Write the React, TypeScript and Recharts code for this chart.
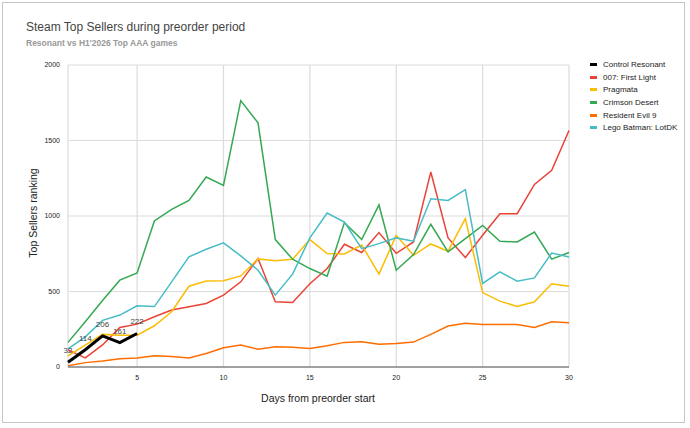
import { CartesianGrid, LabelList, Line, LineChart, XAxis, YAxis } from 'recharts'

const days = [
  1, 2, 3, 4, 5, 6, 7, 8, 9, 10, 11, 12, 13, 14, 15, 16, 17, 18, 19, 20, 21, 22, 23, 24, 25, 26, 27, 28, 29, 30,
]

const controlResonant = [32, 114, 206, 161, 222]
const firstLight = [
  113, 60, 146, 262, 284, 333, 377, 399, 421, 476, 564, 718, 432, 427, 551, 652, 813, 758, 890, 753, 828, 1291,
  855, 725, 872, 1015, 1015, 1209, 1302, 1566,
]
const pragmata = [
  73, 145, 216, 211, 211, 273, 366, 535, 570, 572, 603, 716, 703, 714, 844, 751, 749, 808, 615, 872, 740, 815,
  767, 982, 493, 436, 401, 432, 551, 535,
]
const crimsonDesert = [
  163, 300, 440, 575, 623, 967, 1044, 1103, 1258, 1203, 1764, 1617, 844, 714, 652, 601, 956, 844, 1073, 641,
  745, 945, 762, 850, 938, 833, 828, 894, 714, 758,
]
const residentEvil = [
  9, 29, 40, 55, 59, 75, 70, 59, 90, 128, 145, 117, 134, 130, 123, 141, 163, 167, 150, 156, 165, 216, 271, 289,
  282, 282, 282, 262, 300, 293,
]
const legoBatman = [
  120, 200, 309, 344, 405, 400, 564, 729, 780, 822, 736, 641, 476, 615, 855, 1020, 960, 784, 817, 855, 833, 1114,
  1103, 1174, 553, 630, 568, 590, 755, 729,
]

const xTicks = [5, 10, 15, 20, 25, 30]
const yTicks = [0, 500, 1000, 1500, 2000]

const series = [
  { key: 'resonant', name: 'Control Resonant', color: '#000000' },
  { key: 'firstLight', name: '007: First Light', color: '#ea4335' },
  { key: 'pragmata', name: 'Pragmata', color: '#fbbc04' },
  { key: 'crimson', name: 'Crimson Desert', color: '#34a853' },
  { key: 're9', name: 'Resident Evil 9', color: '#ff6d01' },
  { key: 'lego', name: 'Lego Batman: LotDK', color: '#46bdc6' },
]

const chartData = days.map((day, i) => ({
  day,
  resonant: i < controlResonant.length ? controlResonant[i] : null,
  firstLight: firstLight[i],
  pragmata: pragmata[i],
  crimson: crimsonDesert[i],
  re9: residentEvil[i],
  lego: legoBatman[i],
}))

const font = 'Arial, "Liberation Sans", sans-serif'

function App() {
  return (
    <div style={{ position: 'absolute', left: 0, top: 0, width: 690, height: 428, fontFamily: font, background: '#fff' }}>
      <div
        style={{
          position: 'absolute',
          left: 2,
          top: 2,
          width: 683,
          height: 421,
          border: '1px solid #c6c6c6',
          boxSizing: 'border-box',
        }}
      />
      <div style={{ position: 'absolute', left: 26, top: 20, fontSize: 12, color: '#444' }}>
        Steam Top Sellers during preorder period
      </div>
      <div style={{ position: 'absolute', left: 26, top: 38, fontSize: 8.5, fontWeight: 'bold', color: '#999' }}>
        Resonant vs H1'2026 Top AAA games
      </div>
      <div
        style={{
          position: 'absolute',
          left: 33,
          top: 213,
          fontSize: 10.5,
          color: '#222',
          whiteSpace: 'nowrap',
          transform: 'translate(-50%, -50%) rotate(-90deg)',
        }}
      >
        Top Sellers ranking
      </div>
      <div
        style={{
          position: 'absolute',
          left: 318,
          top: 398,
          fontSize: 10.5,
          color: '#222',
          whiteSpace: 'nowrap',
          transform: 'translate(-50%, -50%)',
        }}
      >
        Days from preorder start
      </div>
      <LineChart
        width={690}
        height={428}
        data={chartData}
        margin={{ top: 65, right: 121, bottom: 41, left: 18 }}
        style={{ position: 'absolute', left: 0, top: 0 }}
      >
        <CartesianGrid stroke="#dcdcdc" strokeWidth={1.2} />
        <XAxis
          dataKey="day"
          type="number"
          domain={[1, 30]}
          ticks={xTicks}
          height={20}
          tickLine={false}
          stroke="#555"
          tick={{ fontSize: 7, fill: '#222', fontFamily: font }}
          tickMargin={2}
        />
        <YAxis
          type="number"
          domain={[0, 2000]}
          ticks={yTicks}
          width={50}
          axisLine={false}
          tickLine={false}
          tick={{ fontSize: 7, fill: '#222', fontFamily: font }}
          tickMargin={2}
        />
        {series.slice(1).map((s) => (
          <Line
            key={s.key}
            type="linear"
            dataKey={s.key}
            name={s.name}
            stroke={s.color}
            strokeWidth={1.5}
            dot={false}
            isAnimationActive={false}
          />
        ))}
        <Line
          type="linear"
          dataKey="resonant"
          name="Control Resonant"
          stroke="#000000"
          strokeWidth={3}
          dot={false}
          connectNulls={false}
          isAnimationActive={false}
        >
          <LabelList dataKey="resonant" position="top" offset={9} fontSize={8} fill="#444" fontFamily={font} />
        </Line>
      </LineChart>
      <div style={{ position: 'absolute', left: 590, top: 58, fontSize: 8, color: '#222' }}>
        {series.map((s) => (
          <div key={s.key} style={{ display: 'flex', alignItems: 'center', height: 12.7 }}>
            <span style={{ display: 'inline-block', width: 7, height: 3, background: s.color, marginRight: 6 }} />
            {s.name}
          </div>
        ))}
      </div>
    </div>
  )
}

export default App
